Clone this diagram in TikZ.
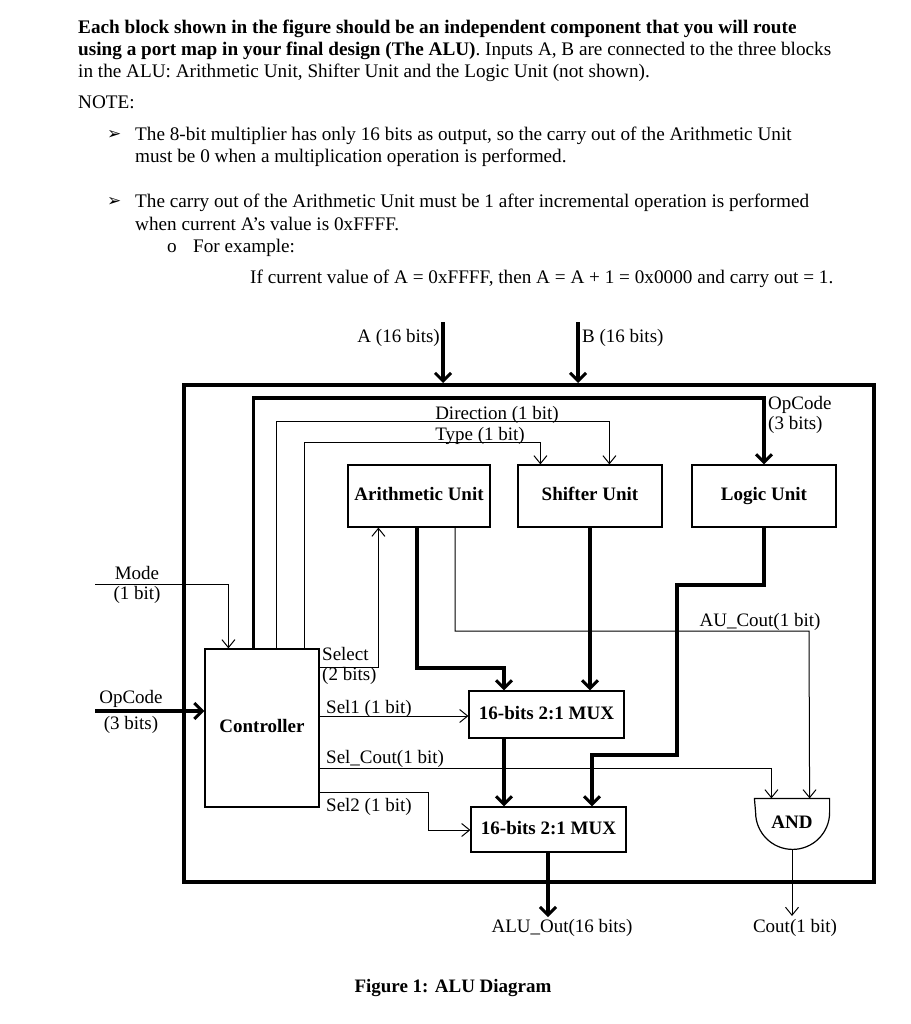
\documentclass[tikz,border=0pt]{standalone}
\usepackage{fontspec}
\setmainfont{Liberation Serif}
\newfontfamily\symfont{DejaVu Sans}
\usetikzlibrary{arrows.meta,positioning}
\tikzset{
  para/.style={anchor=base west,inner sep=0pt,font=\fontsize{19.2}{21}\selectfont},
  lbl/.style={inner sep=0pt,font=\fontsize{19}{20}\selectfont},
  unit/.style={draw,line width=1.2pt,inner sep=0pt,text height=13pt,text depth=4pt,font=\fontsize{19}{20}\selectfont\bfseries},
  bus/.style={line width=3.5pt,-{Straight Barb[length=8pt,width=16pt,line width=3pt]}},
  wire/.style={line width=1pt,-{Straight Barb[length=8pt,width=13pt,line width=1pt]}},
}
\begin{document}
\begin{tikzpicture}[x=1pt,y=-1pt]
  \useasboundingbox[fill=white] (0,0) rectangle (910,1024);
  % text above the figure
  \node[para] (l1) at (78,34) {\textbf{Each block shown in the figure should be an independent component that you will route}};
  \node[para] (l2) at (78,56) {\textbf{using a port map in your final design (The ALU)}. Inputs A, B are connected to the three blocks};
  \node[para] (l3) at (78,78) {in the ALU: Arithmetic Unit, Shifter Unit and the Logic Unit (not shown).};
  \node[para] (note) at (78,109) {NOTE:};
  \foreach \y/\t in {141/{The 8-bit multiplier has only 16 bits as output, so the carry out of the Arithmetic Unit},
                     163/{must be 0 when a multiplication operation is performed.},
                     208/{The carry out of the Arithmetic Unit must be 1 after incremental operation is performed},
                     230/{when current A’s value is 0xFFFF.}} {
    \node[para] (b\y) at (135,\y) {\t};
  }
  \foreach \y in {141,208} {
    \node[para,font=\fontsize{17}{18}\symfont] (arr\y) at (107,\y-1) {➢};
  }
  \node[para] (dot) at (167,252) {o};
  \node[para] (ex) at (193,252) {For example:};
  \node[para] (ifl) at (250,283) {If current value of A = 0xFFFF, then A = A + 1 = 0x0000 and carry out = 1.};

  % blocks
  \node[draw,line width=4pt,minimum width=690pt,minimum height=497pt,inner sep=0pt] (alu) at (529,633.5) {};
  \node[unit,minimum width=142pt,minimum height=62pt] (arith) at (419,496) {Arithmetic Unit};
  \node[unit,minimum width=144pt,minimum height=62pt] (shift) at (590,496) {Shifter Unit};
  \node[unit,minimum width=144pt,minimum height=62pt] (logic) at (764,496) {Logic Unit};
  \node[unit,minimum width=114pt,minimum height=158pt] (ctrl) at (262,728) {Controller};
  \node[unit,minimum width=155pt,minimum height=47pt] (mux1) at (546.5,714.5) {16-bits 2:1 MUX};
  \node[unit,minimum width=155pt,minimum height=45pt] (mux2) at (548.5,829.5) {16-bits 2:1 MUX};
  \node[unit,draw=none,minimum width=74pt,minimum height=50pt] (andg) at (792,824) {AND};
  \draw[line width=1.2pt] (andg.north west) -- (andg.north east) -- ++(0,14) arc (0:180:37) -- cycle;

  % inputs A, B
  \coordinate (ain) at (443,322);
  \coordinate (bin) at (578,322);
  \draw[bus] (ain) -- (ain |- alu.north);
  \draw[bus] (bin) -- (bin |- alu.north);
  \node[lbl,anchor=east] (alab) at (440,338) {A (16 bits)};
  \node[lbl,anchor=west] (blab) at (582,338) {B (16 bits)};

  % controller outputs on top
  \coordinate (dirin) at ([xshift=92pt]shift.north west);
  \coordinate (typein) at ([xshift=23pt]shift.north west);
  \draw[bus] ([xshift=49pt]ctrl.north west) |- (logic.north |- 0,398) -- (logic.north);
  \draw[wire] ([xshift=72pt]ctrl.north west) |- (dirin |- 0,421) -- (dirin);
  \draw[wire] ([xshift=100pt]ctrl.north west) |- (typein |- 0,442) -- (typein);
  \node[lbl,anchor=base] (dirlab) at (497,419) {Direction (1 bit)};
  \node[lbl,anchor=base] (typelab) at (480,440) {Type (1 bit)};
  \node[lbl,anchor=north west,align=left] (oplab) at (768,396) {OpCode\\(3 bits)};

  % controller inputs
  \coordinate (modein) at (95,584);
  \coordinate (opin) at (95,711);
  \draw[wire] (modein) -| ([xshift=24pt]ctrl.north west);
  \draw[bus] (opin) -- (ctrl.west |- opin);
  \node[lbl,align=center] (modelab) at (137,585) {Mode\\(1 bit)};
  \node[lbl,align=center,font=\fontsize{19}{26}\selectfont] (opinlab) at (131,712) {OpCode\\(3 bits)};

  % controller outputs on the right
  \draw[wire] (ctrl.east |- 0,667) -| ([xshift=31pt]arith.south west);
  \draw[wire] (ctrl.east |- 0,716) -- (mux1.west |- 0,716);
  \draw[wire] (ctrl.east |- 0,768) -| ([xshift=17pt]andg.north west);
  \draw[wire] (ctrl.east |- 0,792) -| (428,830) -- (mux2.west |- 0,830);
  \node[lbl,anchor=west,align=left] (sellab) at (322,666) {Select\\(2 bits)};
  \node[lbl,anchor=base west] (sel1lab) at (326,713) {Sel1 (1 bit)};
  \node[lbl,anchor=base west] (selclab) at (326,763) {Sel\_Cout(1 bit)};
  \node[lbl,anchor=base west] (sel2lab) at (326,811) {Sel2 (1 bit)};

  % data paths
  \draw[bus] (arith.south -| 417,0) |- (504,668) -- (504,0 |- mux1.north);
  \draw[wire] (arith.south -| 455,0) |- (809,631) -- ([xshift=-20pt]andg.north east);
  \node[lbl,anchor=base] (aucoutlab) at (760,626) {AU\_Cout(1 bit)};
  \draw[bus] (shift.south) -- (shift.south |- mux1.north);
  \draw[bus] (logic.south) |- (677,585) |- (592,755) -- (592,0 |- mux2.north);
  \draw[bus] (504,0 |- mux1.south) -- (504,0 |- mux2.north);

  % outputs
  \coordinate (aluout) at (548,917);
  \coordinate (cout) at (andg.south |- 0,916);
  \draw[bus] (aluout |- mux2.south) -- (aluout);
  \draw[wire] (andg.south) -- (cout);
  \node[lbl] (aluoutlab) at (562,928) {ALU\_Out(16 bits)};
  \node[lbl] (coutlab) at (795,928) {Cout(1 bit)};
  \node[font=\fontsize{19}{20}\selectfont\bfseries] (cap) at (453,988) {Figure 1: ALU Diagram};
\end{tikzpicture}
\end{document}
